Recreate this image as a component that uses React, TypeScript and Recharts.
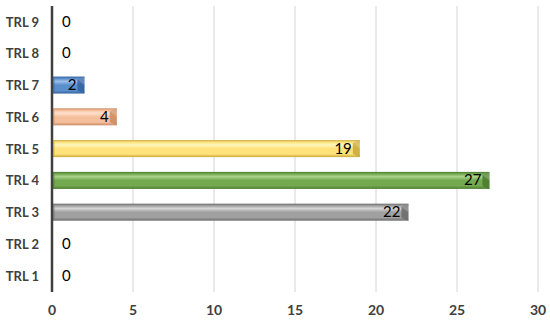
import React from "react";
import {
  BarChart,
  Bar,
  XAxis,
  YAxis,
  CartesianGrid,
  Cell,
  LabelList,
} from "recharts";

// categories top to bottom, as in the picture
const categories = ["TRL 9", "TRL 8", "TRL 7", "TRL 6", "TRL 5", "TRL 4", "TRL 3", "TRL 2", "TRL 1"];
const values = [0, 0, 2, 4, 19, 27, 22, 0, 0];
const xTicks = [0, 5, 10, 15, 20, 25, 30];

// bar colours: [light, base, dark]
const palette: Record<string, [string, string, string]> = {
  "TRL 7": ["#9cc0ea", "#5a8fcc", "#34639c"],
  "TRL 6": ["#fde3d0", "#f6bf9c", "#c98b62"],
  "TRL 5": ["#fff6c0", "#ffe27a", "#c9a83a"],
  "TRL 4": ["#a9d48c", "#74a94f", "#4a7a2e"],
  "TRL 3": ["#d6d6d6", "#a0a0a0", "#6a6a6a"],
};
const fallback: [string, string, string] = ["#dddddd", "#aaaaaa", "#777777"];

const data = categories.map((name, i) => ({ name, value: values[i] }));

const FONT = "Lato, 'Open Sans', sans-serif";

const BevelBar = (props: any) => {
  const { x, y, width, height, index } = props;
  if (!width || width <= 0) return null;
  const name = categories[index];
  const [, , dark] = palette[name] || fallback;
  const b = Math.min(7, width / 2);
  return (
    <g>
      <rect x={x} y={y} width={width} height={height} fill={`url(#grad-${index})`} />
      {/* left bevel */}
      <polygon
        points={`${x},${y} ${x + 3},${y + 3} ${x + 3},${y + height - 3} ${x},${y + height}`}
        fill={dark}
        opacity={0.35}
      />
      {/* right bevel */}
      <polygon
        points={`${x + width - b},${y + 3} ${x + width},${y} ${x + width},${y + height} ${x + width - b},${y + height - 3}`}
        fill={dark}
        opacity={0.85}
      />
      <polygon
        points={`${x + width - b},${y + 3} ${x + width},${y} ${x + width},${y + height / 2}`}
        fill="#ffffff"
        opacity={0.2}
      />
    </g>
  );
};

const ValueLabel = (props: any) => {
  const { x, y, width, height, value } = props;
  const cy = y + height / 2;
  if (!value) {
    return (
      <text x={x + 10} y={cy} dy={5} fontSize={15} fill="#000" fontFamily={FONT}>
        0
      </text>
    );
  }
  return (
    <text x={x + width - 8} y={cy} dy={5} fontSize={15} fill="#000" textAnchor="end" fontFamily={FONT}>
      {value}
    </text>
  );
};

export default function App() {
  return (
    <div style={{ width: 550, height: 324, background: "#fff" }}>
      <style>{"body{margin:0}"}</style>
      <BarChart
        width={550}
        height={324}
        data={data}
        layout="vertical"
        margin={{ top: 6, right: 12, left: 0, bottom: 0 }}
      >
        <defs>
          {categories.map((name, i) => {
            const [light, base, dark] = palette[name] || fallback;
            return (
              <linearGradient key={name} id={`grad-${i}`} x1="0" y1="0" x2="0" y2="1">
                <stop offset="0%" stopColor={dark} />
                <stop offset="12%" stopColor={base} />
                <stop offset="28%" stopColor={light} />
                <stop offset="50%" stopColor={base} />
                <stop offset="82%" stopColor={base} />
                <stop offset="100%" stopColor={dark} />
              </linearGradient>
            );
          })}
        </defs>
        <CartesianGrid horizontal={false} stroke="#d4d4d4" strokeWidth={1} />
        <XAxis
          type="number"
          domain={[0, 30]}
          ticks={xTicks}
          axisLine={false}
          tickLine={false}
          height={32}
          tickMargin={7}
          tick={{ fontSize: 14, fontWeight: 700, fill: "#404040", fontFamily: FONT }}
        />
        <YAxis
          type="category"
          dataKey="name"
          width={52}
          axisLine={{ stroke: "#404040", strokeWidth: 2.5 }}
          tickLine={false}
          tickMargin={7}
          tick={{ fontSize: 13, fontWeight: 700, fill: "#404040", fontFamily: FONT }}
        />
        <Bar dataKey="value" barSize={17} isAnimationActive={false} shape={<BevelBar />}>
          {data.map((d, i) => (
            <Cell key={d.name} fill={(palette[d.name] || fallback)[1]} />
          ))}
          <LabelList dataKey="value" content={<ValueLabel />} />
        </Bar>
      </BarChart>
    </div>
  );
}
